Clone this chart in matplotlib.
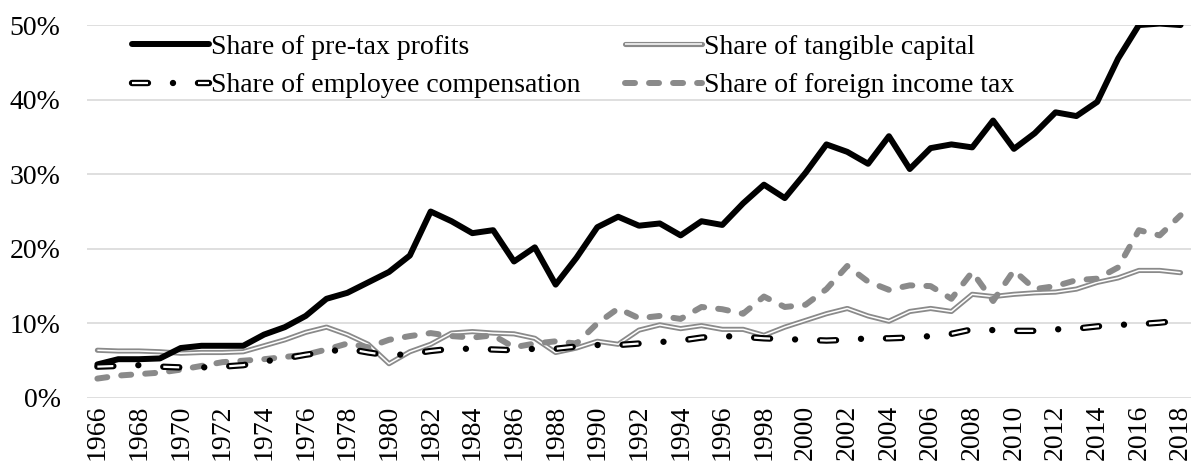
import numpy as np
import matplotlib
matplotlib.use("Agg")
import matplotlib.pyplot as plt
import matplotlib.patheffects as pe
from matplotlib.ticker import FuncFormatter

plt.rcParams['font.family'] = ['Liberation Serif', 'DejaVu Serif']
plt.rcParams['lines.scale_dashes'] = False

years = np.arange(1966, 2019)

pretax_profits = [4.5, 5.2, 5.2, 5.3, 6.7, 7.0, 7.0, 7.0, 8.5, 9.5,
                  11.0, 13.3, 14.1, 15.5, 16.9, 19.1, 25.0, 23.7, 22.1, 22.5,
                  18.3, 20.2, 15.2, 18.8, 22.9, 24.3, 23.1, 23.4, 21.8, 23.7,
                  23.2, 26.1, 28.6, 26.8, 30.2, 34.0, 33.0, 31.4, 35.1, 30.7,
                  33.5, 34.0, 33.6, 37.2, 33.4, 35.5, 38.3, 37.8, 39.7, 45.5,
                  50.0, 50.2, 50.0]

tangible_capital = [6.4, 6.3, 6.3, 6.2, 6.0, 6.1, 6.1, 6.2, 7.0, 7.8,
                    8.8, 9.5, 8.5, 7.2, 4.6, 6.2, 7.2, 8.7, 8.9, 8.7,
                    8.6, 8.0, 6.1, 6.7, 7.6, 7.2, 9.1, 9.8, 9.3, 9.7,
                    9.2, 9.2, 8.4, 9.5, 10.4, 11.3, 12.0, 11.0, 10.3, 11.6,
                    12.0, 11.6, 13.9, 13.6, 13.9, 14.1, 14.2, 14.6, 15.5, 16.1,
                    17.1, 17.1, 16.8]

employee_comp = [4.2, 4.3, 4.4, 4.2, 4.1, 4.1, 4.2, 4.4, 4.9, 5.3,
                 5.8, 6.2, 6.6, 6.1, 5.7, 5.9, 6.3, 6.6, 6.6, 6.5,
                 6.4, 6.6, 6.6, 6.9, 7.1, 7.1, 7.3, 7.5, 7.7, 8.1,
                 8.3, 8.2, 8.0, 7.9, 7.8, 7.7, 7.8, 8.0, 8.0, 8.1,
                 8.3, 8.6, 9.2, 9.1, 9.0, 9.0, 9.2, 9.3, 9.6, 9.8,
                 9.9, 10.1, 10.4]

foreign_tax = [2.6, 3.0, 3.2, 3.4, 3.8, 4.3, 4.8, 5.0, 5.2, 5.5,
               5.8, 6.5, 7.3, 6.8, 7.8, 8.3, 8.7, 8.3, 8.1, 8.4,
               6.8, 7.3, 7.6, 7.3, 10.0, 12.0, 10.7, 11.0, 10.6, 12.2,
               11.9, 11.3, 13.6, 12.2, 12.5, 14.6, 17.7, 15.6, 14.5, 15.1,
               15.0, 13.3, 16.9, 13.0, 17.1, 14.6, 15.0, 15.8, 16.0, 17.5,
               22.5, 21.8, 24.5]

labels = ['Share of pre-tax profits', 'Share of tangible capital',
          'Share of employee compensation', 'Share of foreign income tax']

to_frac = lambda v: np.array(v) / 100.0

fig = plt.figure(figsize=(11.93, 4.73), dpi=100)
ax = fig.add_axes([0.0729, 0.1586, 0.9254, 0.7884])

grey = '#8a8a8a'

# tangible capital: double grey line (grey stroke, white core)
l_tan, = ax.plot(years, to_frac(tangible_capital), color='white', lw=1.1,
                 solid_capstyle='butt', zorder=3,
                 path_effects=[pe.Stroke(linewidth=3.7, foreground=grey,
                                         capstyle='round'), pe.Normal()])

# pre-tax profits
l_prof, = ax.plot(years, to_frac(pretax_profits), color='black', lw=4.3,
                  solid_capstyle='round', zorder=4)

# foreign income tax: thick grey dashes
l_for, = ax.plot(years, to_frac(foreign_tax), color=grey, lw=4.3,
                 linestyle=(0, (7.2, 10.1)), dash_capstyle='round', zorder=5)

# employee compensation: outlined dash + dot
l_emp, = ax.plot(years, to_frac(employee_comp), color='white', lw=1.6,
                 linestyle=(0, (11.5, 18, 0.01, 18)), dash_capstyle='butt',
                 zorder=6,
                 path_effects=[pe.Stroke(linewidth=4.6, foreground='black',
                                         capstyle='round'), pe.Normal()])

ax.set_xlim(1965.5, 2018.5)
ax.set_ylim(0, 0.5)
ax.set_xticks(years[::2])
ax.set_xticklabels([str(y) for y in years[::2]], rotation=90)
ax.set_yticks(np.arange(0, 0.51, 0.1))
ax.yaxis.set_major_formatter(FuncFormatter(lambda v, p: f"{v*100:.0f}%"))
ax.tick_params(axis='both', length=0, labelsize=20)
ax.tick_params(axis='y', pad=19)
ax.tick_params(axis='x', pad=5)
for s in ax.spines.values():
    s.set_visible(False)
ax.grid(axis='y', color='#d9d9d9', lw=1.2, zorder=0)
ax.set_axisbelow(True)

ax.legend([l_prof, l_emp, l_tan, l_for],
          [labels[0], labels[2], labels[1], labels[3]],
          ncol=2, loc='upper left', bbox_to_anchor=(0.0305, 1.005),
          frameon=False, fontsize=20, handlelength=2.77,
          handletextpad=0.07, columnspacing=1.62, labelspacing=0.47,
          borderaxespad=0.0)

fig.savefig('out.png', dpi=100)
